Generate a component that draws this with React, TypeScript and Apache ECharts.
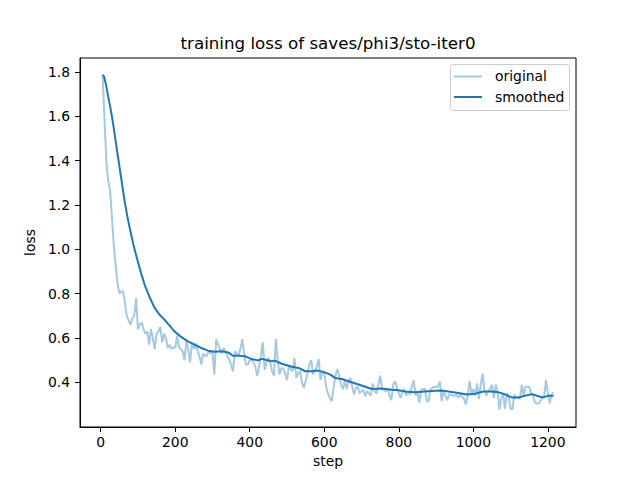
import React, { useEffect, useRef } from "react";
import * as echarts from "echarts";

const chartTitle = "training loss of saves/phi3/sto-iter0";
const xName = "step";
const yName = "loss";
const legendNames = ["original", "smoothed"];

const stepSize = 5;
const lossValues: number[] = [
  1.787, 1.6, 1.4, 1.31, 1.27, 1.15, 1.02, 0.93, 0.85, 0.8, 0.81, 0.81, 0.76, 0.7, 0.68, 0.66, 0.69, 0.7, 0.78, 0.64,
  0.66, 0.67, 0.64, 0.62, 0.63, 0.57, 0.64, 0.6, 0.55, 0.62, 0.63, 0.65, 0.58, 0.62, 0.6, 0.555, 0.57, 0.55, 0.56, 0.555,
  0.61, 0.56, 0.55, 0.54, 0.5, 0.585, 0.55, 0.49, 0.58, 0.55, 0.575, 0.54, 0.52, 0.48, 0.53, 0.52, 0.52, 0.54, 0.53, 0.535,
  0.435, 0.595, 0.57, 0.55, 0.53, 0.555, 0.54, 0.52, 0.5, 0.48, 0.45, 0.54, 0.53, 0.52, 0.55, 0.595, 0.53, 0.48, 0.48, 0.5,
  0.5, 0.49, 0.47, 0.43, 0.47, 0.52, 0.58, 0.457, 0.49, 0.51, 0.49, 0.45, 0.43, 0.595, 0.5, 0.435, 0.465, 0.46, 0.44, 0.41,
  0.47, 0.46, 0.45, 0.51, 0.42, 0.44, 0.45, 0.4, 0.375, 0.405, 0.44, 0.48, 0.5, 0.435, 0.455, 0.47, 0.505, 0.41, 0.45, 0.44,
  0.38, 0.35, 0.33, 0.315, 0.375, 0.43, 0.46, 0.43, 0.39, 0.37, 0.405, 0.37, 0.41, 0.42, 0.38, 0.345, 0.375, 0.38, 0.35, 0.36,
  0.365, 0.337, 0.36, 0.35, 0.34, 0.395, 0.36, 0.35, 0.39, 0.43, 0.37, 0.365, 0.36, 0.37, 0.34, 0.32, 0.39, 0.405, 0.375, 0.35,
  0.33, 0.36, 0.37, 0.34, 0.36, 0.345, 0.38, 0.41, 0.34, 0.36, 0.307, 0.365, 0.37, 0.37, 0.315, 0.315, 0.37, 0.375, 0.38, 0.38,
  0.38, 0.405, 0.315, 0.36, 0.34, 0.32, 0.345, 0.345, 0.34, 0.34, 0.345, 0.33, 0.345, 0.335, 0.325, 0.3, 0.34, 0.405, 0.35, 0.37,
  0.34, 0.395, 0.325, 0.39, 0.44, 0.36, 0.34, 0.36, 0.37, 0.39, 0.33, 0.39, 0.36, 0.277, 0.33, 0.345, 0.28, 0.35, 0.33, 0.28,
  0.28, 0.345, 0.33, 0.33, 0.325, 0.39, 0.34, 0.38, 0.38, 0.38, 0.35, 0.34, 0.31, 0.305, 0.305, 0.315, 0.33, 0.34, 0.41, 0.35,
  0.305, 0.345, 0.355,
];

const smoothSteps: number[] = [
  5, 9, 14, 20, 27, 33, 40, 48, 56, 64, 72, 80, 88, 98, 108, 118, 131, 144, 158, 171, 185, 198, 216,
  234, 252, 270, 288, 306, 324, 342, 355, 369, 387, 405, 423, 432, 447, 459, 467, 486, 513, 531, 549,
  566, 584, 602, 616, 629, 647, 665, 692, 710, 728, 755, 781, 799, 817, 844, 870, 897, 915, 933, 960,
  982, 1005, 1027, 1050, 1068, 1086, 1103, 1121, 1139, 1157, 1175, 1188, 1202, 1215,
];
const smoothValues: number[] = [
  1.787, 1.78, 1.745, 1.69, 1.63, 1.57, 1.49, 1.4, 1.31, 1.22, 1.145, 1.08, 1.02, 0.955, 0.895, 0.84, 0.785, 0.738, 0.705, 0.683, 0.656, 0.63, 0.605,
  0.585, 0.57, 0.555, 0.543, 0.538, 0.54, 0.535, 0.52, 0.52, 0.518, 0.505, 0.499, 0.506, 0.5, 0.495, 0.498, 0.484, 0.47, 0.465, 0.45,
  0.45, 0.453, 0.445, 0.435, 0.42, 0.415, 0.405, 0.39, 0.38, 0.37, 0.372, 0.367, 0.364, 0.359, 0.355, 0.359, 0.362, 0.363, 0.359, 0.352,
  0.345, 0.349, 0.359, 0.359, 0.355, 0.345, 0.332, 0.332, 0.34, 0.347, 0.337, 0.332, 0.34, 0.34,
];

const xTicks = [0, 200, 400, 600, 800, 1000, 1200];
const yTicks = [0.4, 0.6, 0.8, 1.0, 1.2, 1.4, 1.6, 1.8];

const FONT = "DejaVu Sans";
const blue = "#1f77b4";
const lightBlue = "#a5c9e1";

export default function App() {
  const ref = useRef<HTMLDivElement>(null);
  useEffect(() => {
    if (!ref.current) return;
    const chart = echarts.init(ref.current, undefined, { renderer: "svg" });
    const steps = lossValues.map((_, i) => (i + 1) * stepSize);
    const original = steps.map((s, i) => [s, lossValues[i]]);
    const smoothed = smoothSteps.map((s, i) => [s, smoothValues[i]]);
    chart.setOption({
      animation: false,
      backgroundColor: "#ffffff",
      textStyle: { fontFamily: FONT },
      grid: {
        left: 80,
        right: 64,
        top: 58,
        bottom: 53,
        show: true,
        borderColor: "#000",
        borderWidth: 1,
        backgroundColor: "transparent",
      },
      xAxis: {
        type: "value",
        min: -55.5,
        max: 1275.5,
        name: xName,
        nameLocation: "middle",
        nameGap: 27,
        nameTextStyle: { fontFamily: FONT, fontSize: 13.9, color: "#000" },
        axisLine: { show: true, onZero: false, lineStyle: { color: "#000", width: 1 } },
        axisTick: { show: true, inside: false, length: 5, customValues: xTicks, lineStyle: { color: "#000" } },
        axisLabel: {
          customValues: xTicks,
          margin: 8,
          fontFamily: FONT,
          fontSize: 13.9,
          color: "#000",
          formatter: (v: number) => String(Math.round(v)),
        },
        splitLine: { show: false },
      },
      yAxis: {
        type: "value",
        min: 0.1986,
        max: 1.863,
        name: yName,
        nameLocation: "middle",
        nameGap: 40,
        nameRotate: 90,
        nameTextStyle: { fontFamily: FONT, fontSize: 13.9, color: "#000" },
        axisLine: { show: true, onZero: false, lineStyle: { color: "#000", width: 1 } },
        axisTick: { show: true, inside: false, length: 5, customValues: yTicks, lineStyle: { color: "#000" } },
        axisLabel: {
          customValues: yTicks,
          margin: 10,
          fontFamily: FONT,
          fontSize: 13.9,
          color: "#000",
          formatter: (v: number) => v.toFixed(1),
        },
        splitLine: { show: false },
      },
      series: [
        {
          name: legendNames[0],
          type: "line",
          data: original,
          showSymbol: false,
          symbol: "none",
          lineStyle: { color: lightBlue, width: 2 },
          itemStyle: { color: lightBlue },
          z: 2,
        },
        {
          name: legendNames[1],
          type: "line",
          data: smoothed,
          showSymbol: false,
          symbol: "none",
          lineStyle: { color: blue, width: 2 },
          itemStyle: { color: blue },
          z: 3,
        },
      ],
      graphic: [
        {
          type: "text",
          x: 328,
          y: 43,
          style: {
            text: chartTitle,
            align: "center",
            verticalAlign: "middle",
            fontFamily: FONT,
            fontSize: 16.7,
            fill: "#000",
          },
        },
        {
          type: "rect",
          shape: { x: 450.5, y: 64.5, width: 119, height: 46, r: 3 },
          style: { fill: "rgba(255,255,255,0.8)", stroke: "#cccccc", lineWidth: 1 },
          z: 10,
        },
        {
          type: "line",
          shape: { x1: 454, y1: 76.5, x2: 482, y2: 76.5 },
          style: { stroke: lightBlue, lineWidth: 2 },
          z: 11,
        },
        {
          type: "line",
          shape: { x1: 454, y1: 97, x2: 482, y2: 97 },
          style: { stroke: blue, lineWidth: 2 },
          z: 11,
        },
        {
          type: "text",
          x: 495,
          y: 76,
          style: { text: legendNames[0], verticalAlign: "middle", fontFamily: FONT, fontSize: 13.9, fill: "#000" },
          z: 11,
        },
        {
          type: "text",
          x: 495,
          y: 97,
          style: { text: legendNames[1], verticalAlign: "middle", fontFamily: FONT, fontSize: 13.9, fill: "#000" },
          z: 11,
        },
      ],
    });
    return () => chart.dispose();
  }, []);
  return (
    <div
      ref={ref}
      style={{ position: "fixed", left: 0, top: 0, width: 640, height: 480, background: "#fff" }}
    />
  );
}
